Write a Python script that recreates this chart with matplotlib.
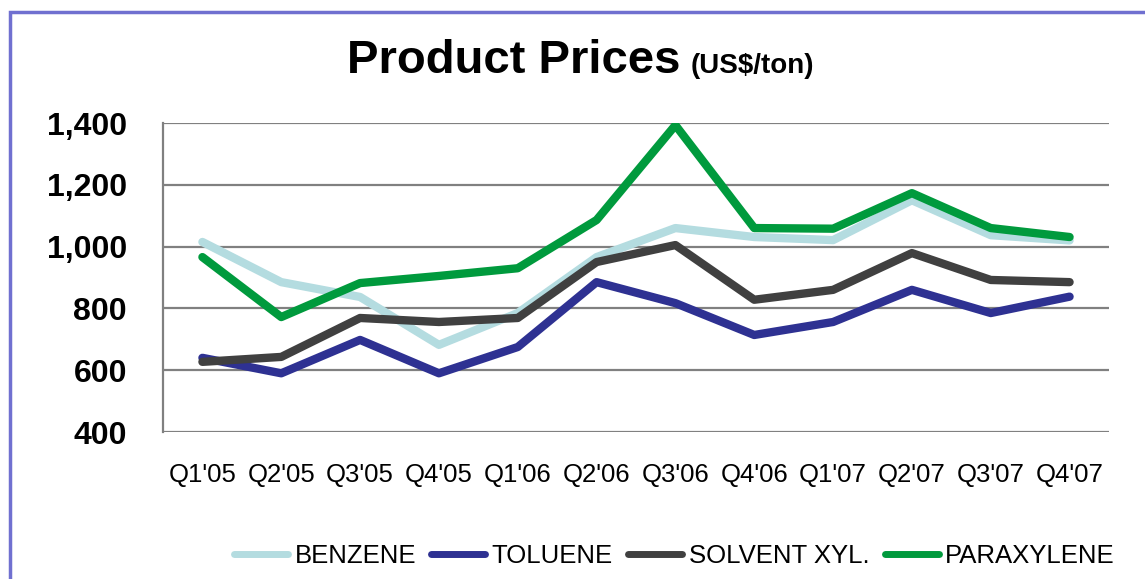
import matplotlib.pyplot as plt
from matplotlib.patches import Rectangle

plt.rcParams['font.family'] = ['Liberation Sans', 'DejaVu Sans']

quarters = ["Q1'05", "Q2'05", "Q3'05", "Q4'05", "Q1'06", "Q2'06",
            "Q3'06", "Q4'06", "Q1'07", "Q2'07", "Q3'07", "Q4'07"]
benzene = [1015, 885, 837, 682, 785, 966, 1060, 1031, 1021, 1150, 1037, 1020]
toluene = [640, 590, 698, 590, 675, 885, 817, 714, 756, 860, 785, 838]
solvent_xyl = [627, 643, 769, 756, 769, 950, 1005, 828, 860, 979, 892, 885]
paraxylene = [966, 772, 882, 905, 930, 1086, 1393, 1060, 1058, 1173, 1060, 1031]
yticks = [400, 600, 800, 1000, 1200, 1400]

fig = plt.figure(figsize=(11.45, 5.79), dpi=100)
ax = fig.add_axes([163/1145, 1-432/579, (1109-163)/1145, (432-123)/579])

x = range(len(quarters))
ax.plot(x, benzene, color='#B4DCE0', lw=6, label='BENZENE', solid_capstyle='round')
ax.plot(x, toluene, color='#2E3192', lw=6, label='TOLUENE', solid_capstyle='round')
ax.plot(x, solvent_xyl, color='#404040', lw=6, label='SOLVENT XYL.', solid_capstyle='round')
ax.plot(x, paraxylene, color='#009A3D', lw=6, label='PARAXYLENE', solid_capstyle='round')

ax.set_xlim(-0.5, len(quarters) - 0.5)
ax.set_ylim(400, 1400)
ax.set_yticks(yticks)
ax.set_yticklabels([f'{v:,}' for v in yticks], fontsize=23, fontweight='bold')
ax.set_xticks(list(x))
ax.set_xticklabels(quarters, fontsize=18.5)
ax.tick_params(axis='both', length=0)
ax.tick_params(axis='x', pad=22)
ax.tick_params(axis='y', pad=26)
ax.grid(axis='y', color='#808080', lw=1.6)
ax.set_axisbelow(True)
for s in ['top', 'right', 'bottom']:
    ax.spines[s].set_visible(False)
ax.spines['left'].set_color('#808080')
ax.spines['left'].set_linewidth(1.6)

fig.text(680/1145, 1-73/579, 'Product Prices', fontsize=34, fontweight='bold',
         ha='right', va='baseline')
fig.text(691/1145, 1-73/579, '(US$/ton)', fontsize=20, fontweight='bold',
         ha='left', va='baseline')

leg = fig.legend(loc='center left', bbox_to_anchor=(234/1145, 1-556/579), ncol=4,
                 frameon=False, handlelength=2.1, handletextpad=0.25,
                 columnspacing=0.6, borderpad=0, borderaxespad=0,
                 prop={'size': 18.5, 'weight': 'medium'})
for h in leg.get_lines():
    h.set_linewidth(5)

fig.patches.append(Rectangle((10/1145, -0.1), 1.2, 1-12/579 + 0.1,
                             transform=fig.transFigure, fill=False,
                             edgecolor='#7070D0', lw=2.5))

fig.savefig('out.png', dpi=100)
